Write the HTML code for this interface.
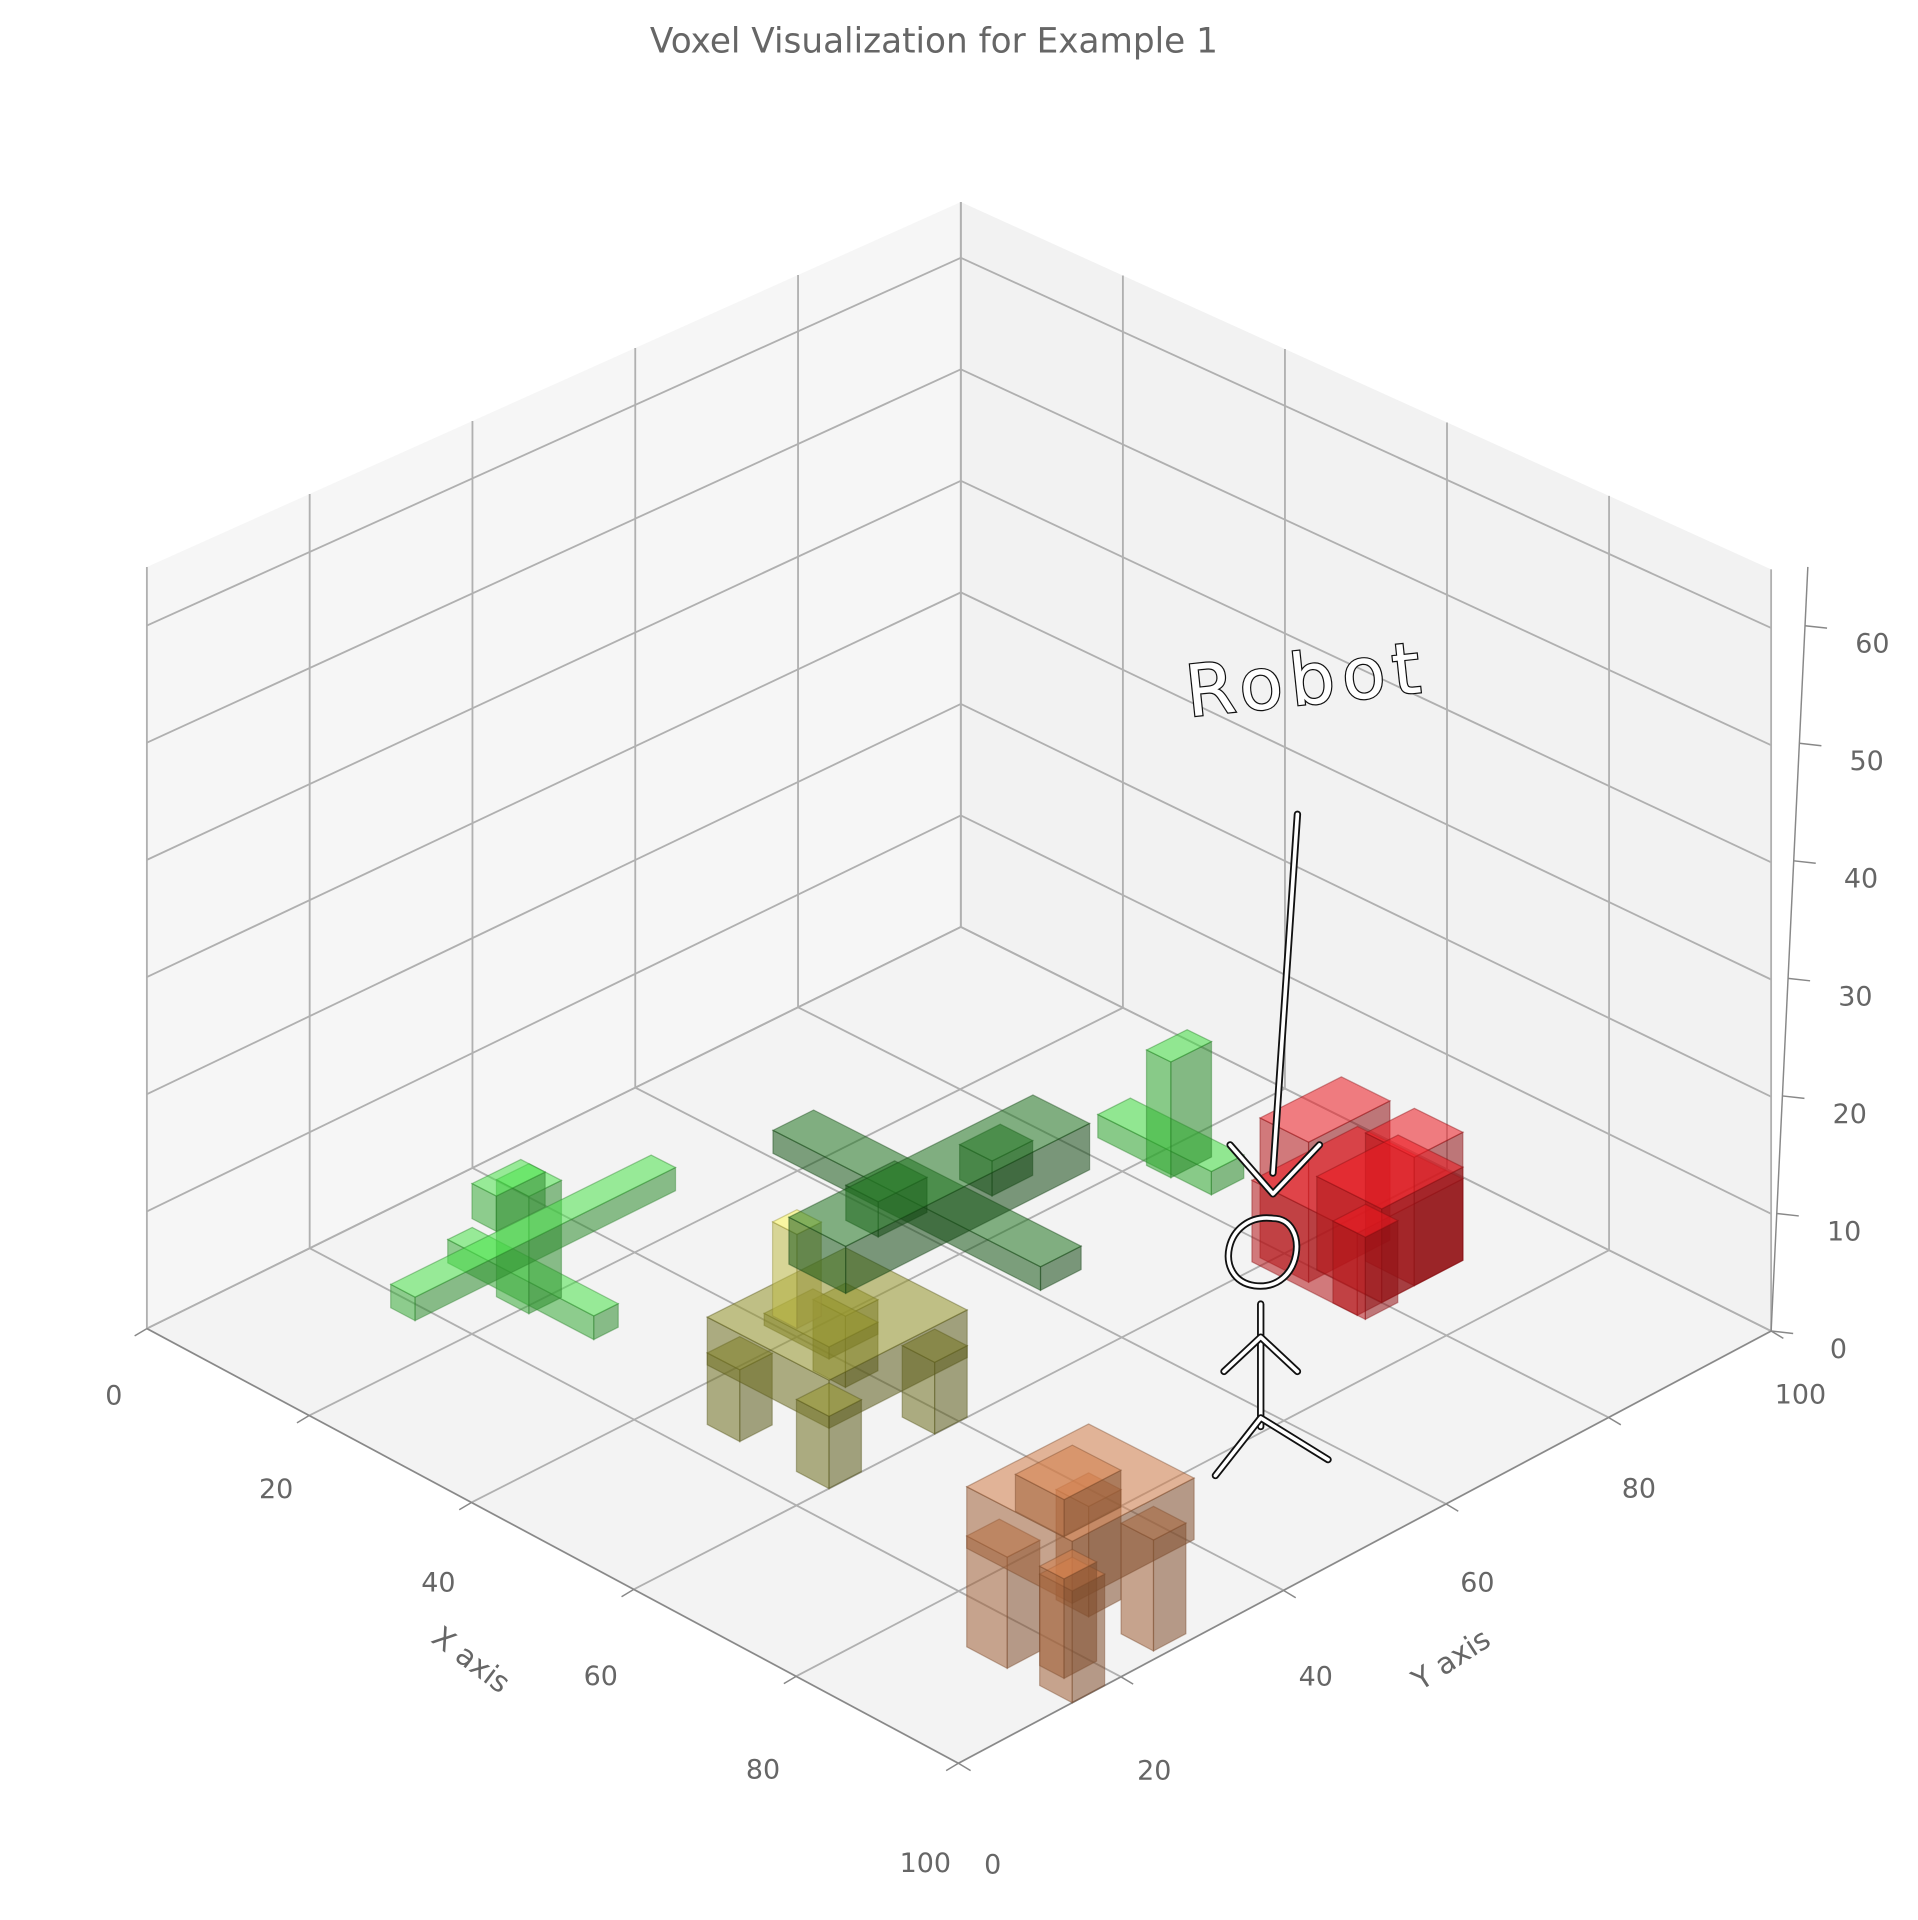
<!DOCTYPE html>
<html><head><meta charset="utf-8"><style>
html,body{margin:0;padding:0;background:#fff;}
svg{display:block;font-family:"DejaVu Sans","Liberation Sans",sans-serif;}
</style></head><body>
<svg id="chart" width="1918" height="1920" viewBox="0 0 1567 1568" preserveAspectRatio="none" xmlns="http://www.w3.org/2000/svg">
<text x="763" y="43" text-anchor="middle" font-size="28" fill="#666">Voxel Visualization for Example 1</text>
<g id="panes"></g>
<g id="grid"></g>
<g id="axes"></g>
<g id="voxels"></g>
<g id="annot"></g>
</svg>
<script>
const xTicks=[0,20,40,60,80,100];
const yTicks=[0,20,40,60,80,100];
const zTicks=[0,10,20,30,40,50,60];
// boxes: [x0,y0,z0,dx,dy,dz]
const redBoxes=[[59,77,0,13,13,7],[59,78,0,6,10,12],[64,80,0,8,10,8],[66,84,0,6,6,11],[69,77,0,4,4,7]];
const brownBoxes=[[87,14,0,5,4,9],[96,14,0,4,4,9],[87,25,0,4,4,9],[95,25,0,4,4,9],[87,14,8,13,15,5],[90,17,11,6,7,3],[98,12,3,3,4,8]];
const oliveBoxes=[[45,24,0,4,4,6],[56,24,0,4,4,6],[45,37,0,4,4,6],[56,37,0,4,4,6],[45,24,5,15,17,4],[48,28,8,8,6,1]];
const yellowBoxes=[[36,41,0,3,3,8]];
const darkGreenBoxes=[[35,44,3,7,30,4],[22,55,4,33,5,2],[36,50,5,4,6,3],[38,62,5,4,5,3]];
const brightGreenBoxes=[[45,78,3,3,5,10],[40,77,4,14,4,2]];
const lightGreenBoxes=[[12,18,0,3,32,2],[10,27,0,18,3,2],[17,26,0,4,4,10],[16,24,7,3,6,3]];
const objects=[
 {name:'red-robot',boxes:redBoxes,col:[225,25,30]},
 {name:'brown-elephant',boxes:brownBoxes,col:[200,120,70]},
 {name:'olive-elephant',boxes:oliveBoxes,col:[140,140,40]},
 {name:'yellow-pillar',boxes:yellowBoxes,col:[240,235,90]},
 {name:'darkgreen-plane',boxes:darkGreenBoxes,col:[30,110,30]},
 {name:'brightgreen-tail',boxes:brightGreenBoxes,col:[60,210,60]},
 {name:'lightgreen-plant',boxes:lightGreenBoxes,col:[70,215,70]}
];
const A=[120,1085],B=[783,1440],C=[1447,1087],D=[785,757];
const hA=622,hB=665,hC=622,hD=592,ZMAX=65;
function P(x,y,z){const u=x/100,v=y/100;
 const a=(1-u)*(1-v),b=u*(1-v),c=u*v,d=(1-u)*v;
 const px=A[0]*a+B[0]*b+C[0]*c+D[0]*d, py=A[1]*a+B[1]*b+C[1]*c+D[1]*d;
 const h=hA*a+hB*b+hC*c+hD*d; return [px,py-z/ZMAX*h];}
const NS='http://www.w3.org/2000/svg';
function mk(tag,attrs,parent){const e=document.createElementNS(NS,tag);for(const k in attrs)e.setAttribute(k,attrs[k]);parent.appendChild(e);return e;}
function pts(arr){return arr.map(p=>p[0].toFixed(1)+','+p[1].toFixed(1)).join(' ');}
const panes=document.getElementById('panes');
let e;
e=mk('polygon',{points:pts([P(0,0,0),P(0,100,0),P(0,100,ZMAX),P(0,0,ZMAX)]),fill:'#f6f6f6'},panes);


e=mk('polygon',{points:pts([P(0,100,0),P(100,100,0),P(100,100,ZMAX),P(0,100,ZMAX)]),fill:'#f2f2f2'},panes);


e=mk('polygon',{points:pts([P(0,0,0),P(100,0,0),P(100,100,0),P(0,100,0)]),fill:'#f3f3f3'},panes);


const grid=document.getElementById('grid');
function gl(p,q,name){const l=mk('line',{x1:p[0],y1:p[1],x2:q[0],y2:q[1],stroke:'#b0b0b0','stroke-width':1.5},grid);
 
 }
xTicks.forEach(x=>{gl(P(x,0,0),P(x,100,0),'floor-gridline-x');gl(P(x,100,0),P(x,100,ZMAX),'wall-gridline-x');});
yTicks.forEach(y=>{gl(P(0,y,0),P(100,y,0),'floor-gridline-y');gl(P(0,y,0),P(0,y,ZMAX),'wall-gridline-y');});
zTicks.forEach(z=>{gl(P(0,0,z),P(0,100,z),'wall-gridline-z');gl(P(0,100,z),P(100,100,z),'wall-gridline-z');});
const axes=document.getElementById('axes');
function al(p,q,name,w){const l=mk('line',{x1:p[0],y1:p[1],x2:q[0],y2:q[1],stroke:'#888','stroke-width':w||1.2},axes);
 
 }
function tx(x,y,s,name,rot,size){const t=mk('text',{x:x,y:y,'text-anchor':'middle','font-size':size||22,fill:'#666'},axes);
 if(rot)t.setAttribute('transform','rotate('+rot+' '+x+' '+y+')');t.textContent=s;
 
 }
al(P(0,0,0),P(100,0,0),'x-axis-line');al(P(100,0,0),P(100,100,0),'y-axis-line');
xTicks.forEach(x=>{const p=P(x,0,0);al(p,[p[0]-10,p[1]+6],'x-tick');
 tx(p[0]-27,p[1]+62+27*x/100,String(x),'x-tick-label');});
yTicks.forEach(y=>{const p=P(100,y,0);al(p,[p[0]+10,p[1]+6],'y-tick');
 tx(p[0]+28+(-4*y/100),p[1]+90-31*y/100,String(y),'y-tick-label');});
const zb=[1447,1087],zt=[1477,463];
al(zb,zt,'z-axis-line');
zTicks.forEach(z=>{const f=z/ZMAX;const x=zb[0]+(zt[0]-zb[0])*f,y=zb[1]+(zt[1]-zb[1])*f;
 al([x,y],[x+18,y+2],'z-tick');tx(x+55,y+22,String(z),'z-tick-label');});
tx(380,1362,'X axis','x-axis-title',37,24);
tx(1190,1362,'Y axis','y-axis-title',-33,24);
tx(1572,830,'Z axis','z-axis-title',90,24);
const vg=document.getElementById('voxels');
function rgba(c,k,a){return 'rgba('+Math.round(Math.min(255,c[0]*k))+','+Math.round(Math.min(255,c[1]*k))+','+Math.round(Math.min(255,c[2]*k))+','+a+')';}
objects.forEach(o=>{
 const g=mk('g',{},vg);
 
 
 const bs=o.boxes.slice().sort((a,b)=>(a[0]-a[1])-(b[0]-b[1]));
 bs.forEach(b=>{const [x0,y0,z0,dx,dy,dz]=b,x1=x0+dx,y1=y0+dy,z1=z0+dz;
  const faces=[
   [[P(x0,y0,z0),P(x1,y0,z0),P(x1,y0,z1),P(x0,y0,z1)],0.8],
   [[P(x1,y0,z0),P(x1,y1,z0),P(x1,y1,z1),P(x1,y0,z1)],0.65],
   [[P(x0,y0,z1),P(x1,y0,z1),P(x1,y1,z1),P(x0,y1,z1)],1.05]];
  faces.forEach(f=>{const poly=mk('polygon',{points:pts(f[0]),fill:rgba(o.col,f[1],0.55),stroke:rgba(o.col,0.6,0.4),'stroke-width':1},g);
   
   });
 });
});
const an=document.getElementById('annot');
function stroke2(d,name){const b=mk('path',{d:d,fill:'none',stroke:'#111','stroke-width':6,'stroke-linecap':'round','stroke-linejoin':'round'},an);
 
 
 const w=mk('path',{d:d,fill:'none',stroke:'#fff','stroke-width':3,'stroke-linecap':'round','stroke-linejoin':'round'},an);
 
 }
stroke2('M1060,665 L1040,958','annotation-arrow');
stroke2('M1005,935 L1040,975 L1078,935','annotation-arrowhead');
stroke2('M1040,995 C1000,990 990,1045 1025,1050 C1065,1055 1070,995 1040,995','annotation-head');
stroke2('M1030,1065 L1030,1165','annotation-body');
stroke2('M1000,1120 L1030,1092 L1060,1120','annotation-arms');
stroke2('M993,1205 L1030,1158 L1085,1192','annotation-legs');
const rt=mk('text',{x:1068,y:575,'text-anchor':'middle','font-size':58,fill:'#fff',stroke:'#111','stroke-width':2,'paint-order':'stroke','letter-spacing':'6',transform:'rotate(-6 1068 560)'},an);
rt.textContent='Robot';


</script>
</body></html>
